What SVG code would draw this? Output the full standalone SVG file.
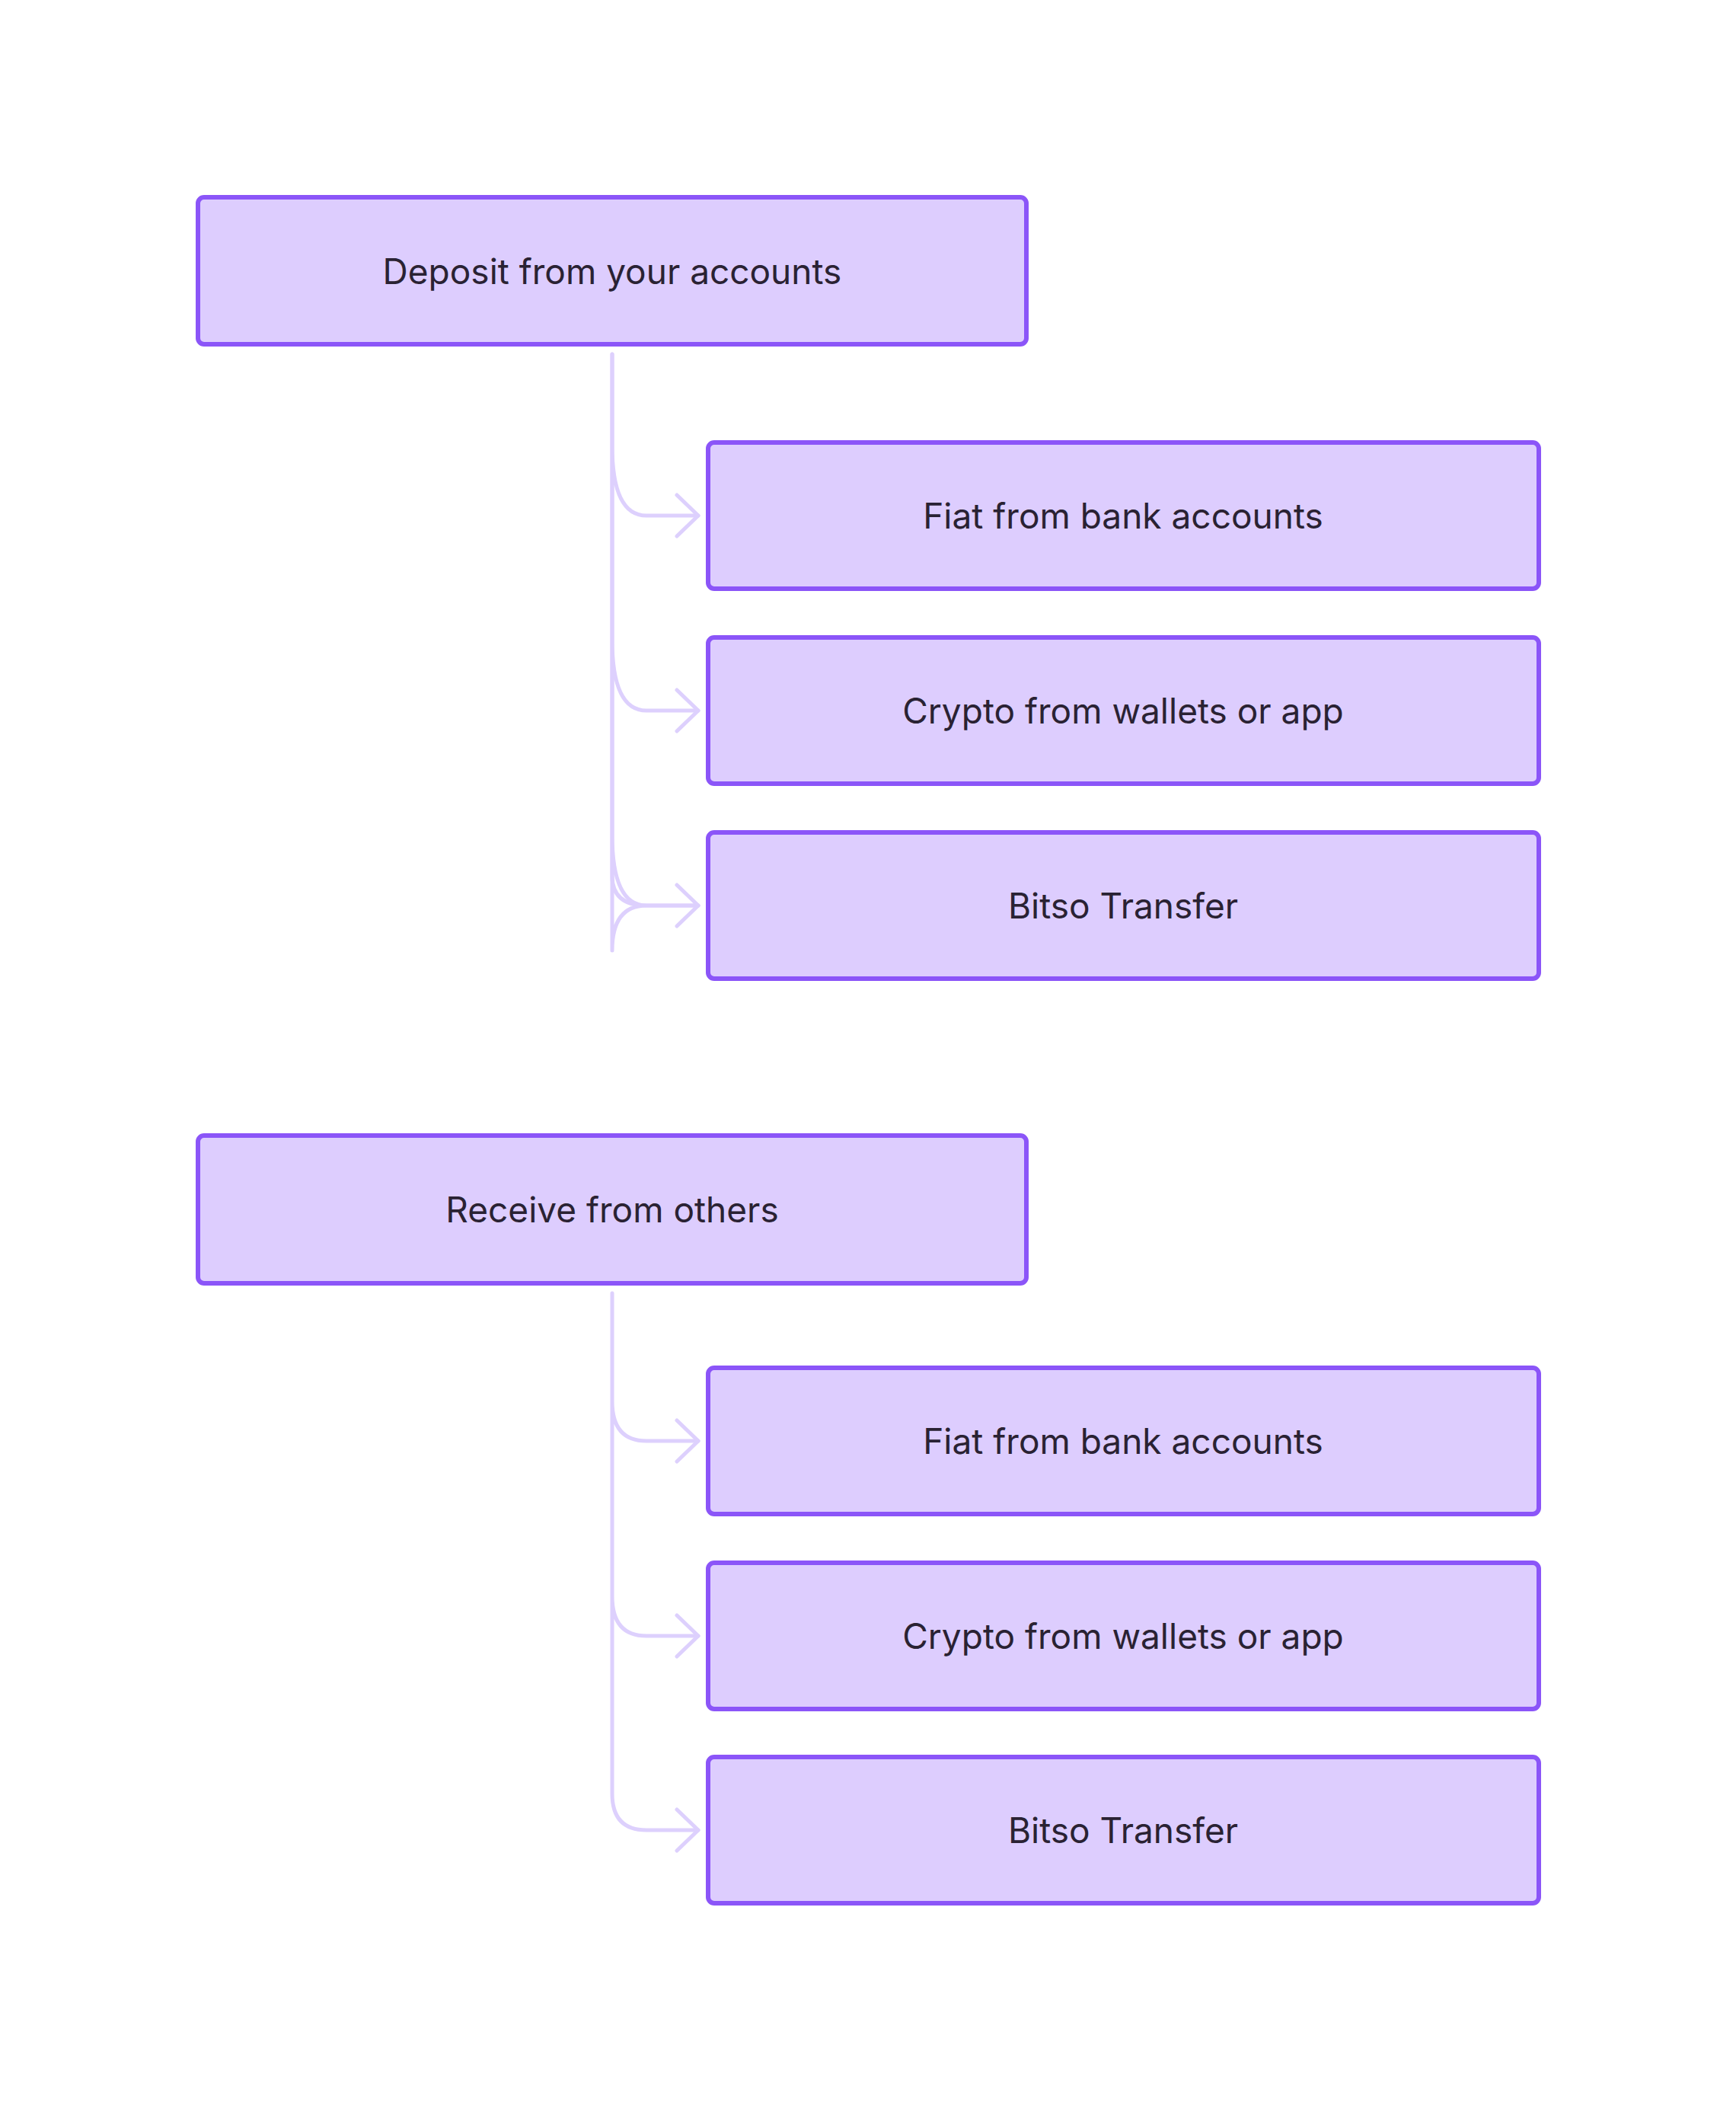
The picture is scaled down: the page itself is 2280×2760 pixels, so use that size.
<svg xmlns="http://www.w3.org/2000/svg" width="2280" height="2760" viewBox="0 0 2280 2760">
<style>
.n{fill:#ddcdfe;stroke:#8b55f8;stroke-width:6}
.t{font-family:Inter,"Liberation Sans",sans-serif;font-size:46px;fill:#2a2233;text-anchor:middle;dominant-baseline:central}
.c{fill:none;stroke:#ddd0fd;stroke-width:5;stroke-linecap:round;stroke-linejoin:round}
</style>
<rect width="2280" height="2760" fill="#fff"/>
<g id="connectors">
<path class="c" d="M804 465 V1248 Q804 1189 849 1189 H917 M804 585 Q804 677 849 677 H917 M804 840 Q804 933 849 933 H917 M804 1096 Q804 1189 849 1189"/>
<path class="c" d="M804 465 V1150 Q804 1189 849 1189 H917"/>
<path class="c" d="M889 650 L917 677 L889 704 M889 906 L917 933 L889 960 M889 1162 L917 1189 L889 1216"/>
<path class="c" d="M804 1698 V2355 Q804 2403 849 2403 H917 M804 1840 Q804 1892 849 1892 H917 M804 2096 Q804 2148 849 2148 H917"/>
<path class="c" d="M889 1865 L917 1892 L889 1919 M889 2121 L917 2148 L889 2175 M889 2376 L917 2403 L889 2430"/>
</g>
<g id="n1"><rect class="n" x="260" y="259" width="1088" height="193" rx="8"/><text class="t" x="804" y="356">Deposit from your accounts</text></g>
<g id="n2"><rect class="n" x="930" y="581" width="1091" height="192" rx="8"/><text class="t" x="1475" y="677">Fiat from bank accounts</text></g>
<g id="n3"><rect class="n" x="930" y="837" width="1091" height="192" rx="8"/><text class="t" x="1475" y="933">Crypto from wallets or app</text></g>
<g id="n4"><rect class="n" x="930" y="1093" width="1091" height="192" rx="8"/><text class="t" x="1475" y="1189">Bitso Transfer</text></g>
<g id="n5"><rect class="n" x="260" y="1491" width="1088" height="194" rx="8"/><text class="t" x="804" y="1588">Receive from others</text></g>
<g id="n6"><rect class="n" x="930" y="1796" width="1091" height="192" rx="8"/><text class="t" x="1475" y="1892">Fiat from bank accounts</text></g>
<g id="n7"><rect class="n" x="930" y="2052" width="1091" height="192" rx="8"/><text class="t" x="1475" y="2148">Crypto from wallets or app</text></g>
<g id="n8"><rect class="n" x="930" y="2307" width="1091" height="192" rx="8"/><text class="t" x="1475" y="2403">Bitso Transfer</text></g>
</svg>
